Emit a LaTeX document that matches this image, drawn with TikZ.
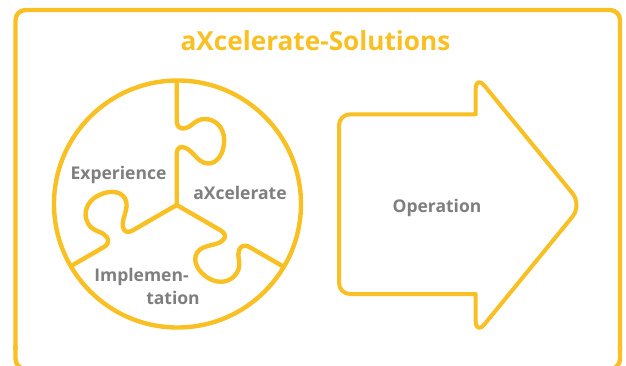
\documentclass[tikz,border=0pt]{standalone}
\usepackage{fontspec}
\setmainfont{Open Sans}
\definecolor{amber}{HTML}{F9C023}
\definecolor{label}{HTML}{7F7F7F}
\tikzset{
  outline/.style={draw=amber,line width=4.4pt,line join=round},
  lbl/.style={text=label,font=\fontsize{17.5}{23}\selectfont\bfseries,align=right,inner sep=0pt},
  ttl/.style={text=amber,font=\fontsize{26.2}{30}\selectfont\bfseries,inner sep=0pt}
}
\newcommand{\puzzleedge}{(0,123) -- (0,85) .. controls (0,78) and (3,76.5) .. (7,76.5) .. controls (14,76.5) and (18,86) .. (28,86) .. controls (40,86) and (47.5,76) .. (47.5,65) .. controls (47.5,52) and (41,41.5) .. (31.5,41.5) .. controls (20,41.5) and (15,58) .. (5,58) .. controls (2,58) and (0,55) .. (0,51) -- (0,0)}
\begin{document}
\begin{tikzpicture}[x=1pt,y=-1pt]
\useasboundingbox (0,0) rectangle (626,365);
\clip (0,0) rectangle (626,365);
\fill[white] (0,0) rectangle (626,365);
\draw[outline] (15.5,350) [rounded corners=10pt] -- (15.5,10) -- (620,10) -- (620,350);
\draw[outline] (15.5,345) [rounded corners=10pt] -- (15.5,369) -- (40,369);
\draw[outline] (620,345) [rounded corners=10pt] -- (620,369) -- (595,369);
\node[ttl] (title) at (315.5,40.5) {aXcelerate-Solutions};
\draw[outline] (177.5,204) circle (123.5pt);
\begin{scope}[shift={(176.7,205)},y=1pt]
  \draw[outline] \puzzleedge;
  \draw[outline,rotate=-120] \puzzleedge;
  \draw[outline,rotate=120] \puzzleedge;
\end{scope}
\node[lbl] (experience) at (118.5,175) {Experience};
\node[lbl] (axcelerate) at (240,193) {aXcelerate};
\node[lbl] (implementation) at (147,286) {Implemen-\hspace*{11pt}\\tation};
\draw[outline,line width=4pt] (339,205) [rounded corners=11pt] -- (339,114.3) [sharp corners] -- (475.7,114.3) [rounded corners=14pt] -- (475.7,75) [rounded corners=15pt] -- (582,205) [rounded corners=14pt] -- (475.7,335) [sharp corners] -- (475.7,294) [rounded corners=11pt] -- (339,294) -- cycle;
\node[lbl] (operation) at (437,208) {Operation};
\end{tikzpicture}
\end{document}
